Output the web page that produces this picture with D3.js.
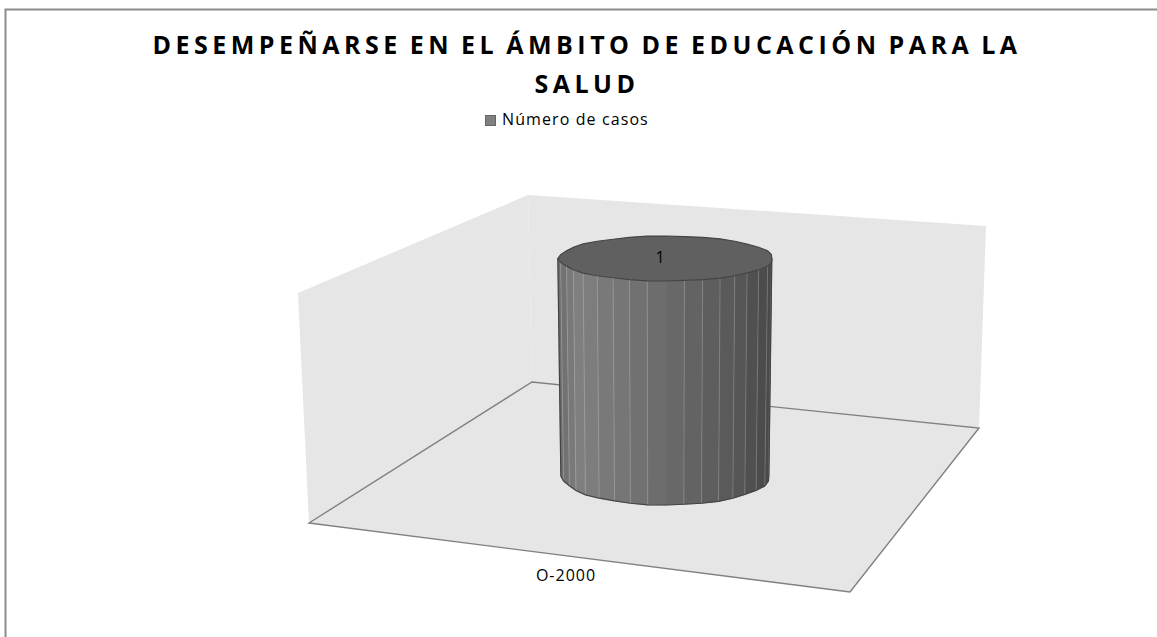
<!DOCTYPE html>
<html>
<head>
<meta charset="utf-8">
<script src="https://cdn.jsdelivr.net/npm/d3@7"></script>
<style>
    html, body { margin: 0; padding: 0; background: #fff; }
    svg { display: block; }
    text { font-family: "Open Sans", sans-serif; fill: #000; }
</style>
</head>
<body>
<div id="chart"></div>
<script>
const width = 1157;
const height = 637;

const titleLines = ["DESEMPEÑARSE EN EL ÁMBITO DE EDUCACIÓN PARA LA", "SALUD"];
const categories = ["O-2000"];
const seriesName = "Número de casos";
const seriesValues = [1];

const svg = d3.select("#chart")
    .append("svg")
    .attr("width", width)
    .attr("height", height);

// frame, only top and left edges fall inside the picture
svg.append("path")
    .attr("d", "M5.5,637V9.5H1157")
    .attr("fill", "none")
    .attr("stroke", "#8c8c8c")
    .attr("stroke-width", 2);

// title
svg.selectAll(".title")
    .data(titleLines)
    .enter().append("text")
    .attr("class", "title")
    .attr("x", 587)
    .attr("y", (d, i) => 54 + i * 39)
    .attr("text-anchor", "middle")
    .attr("font-size", "25px")
    .attr("font-weight", "bold")
    .attr("letter-spacing", "4.5px")
    .attr("word-spacing", "-3px")
    .text(d => d);

// legend
svg.append("rect")
    .attr("x", 485.5)
    .attr("y", 115.5)
    .attr("width", 10)
    .attr("height", 10)
    .attr("fill", "#808080")
    .attr("stroke", "#666");

svg.append("text")
    .attr("x", 502)
    .attr("y", 125)
    .attr("font-size", "16px")
    .attr("letter-spacing", "1.1px")
    .text(seriesName);

// walls and floor
const line = d3.line();
const leftWall = [[298, 293], [528, 195], [532, 382], [309, 523]];
const backWall = [[528, 195], [986, 226], [979, 428], [532, 382]];
const floor = [[309, 523], [532, 382], [979, 428], [850, 592]];

svg.selectAll(".wall")
    .data([leftWall, backWall, floor])
    .enter().append("path")
    .attr("class", "wall")
    .attr("d", d => line(d) + "Z")
    .attr("fill", "#e6e6e6");

svg.append("path")
    .attr("d", line(floor) + "Z")
    .attr("fill", "none")
    .attr("stroke", "#808080")
    .attr("stroke-width", 1.4);

// scales
const x = d3.scaleBand()
    .domain(categories)
    .range([309, 1023]);

const y = d3.scaleLinear()
    .domain([0, 1])
    .range([476, 258.5]);

// the cylinder gets wider and flatter towards the top, as in the perspective of the plot
const rx = d3.scaleLinear().domain([0, 1]).range([104, 107]);
const ry = d3.scaleLinear().domain([0, 1]).range([29, 22.5]);
const shade = d3.scaleLinear()
    .domain([0, 0.08, 0.3, 0.55, 0.85, 1])
    .range(["#6e6e6e", "#808080", "#757575", "#686868", "#565656", "#484848"]);

const facetCount = 36;

function ringPoint(category, value, k) {
    const a = k / facetCount * 2 * Math.PI;
    const wobble = 1 + 0.011 * Math.cos(a * 9);
    return [
        x(category) + x.bandwidth() / 2 - rx(value) * wobble * Math.cos(a),
        y(value) + ry(value) * wobble * Math.sin(a)
    ];
}

function facetShade(k) {
    return shade((1 - Math.cos((k + 0.5) / facetCount * 2 * Math.PI)) / 2);
}

categories.forEach((category, c) => {
    const value = seriesValues[c];
    const g = svg.append("g");
    const front = d3.range(facetCount / 2);

    // side of the cylinder, front half only
    g.selectAll(".facet")
        .data(front)
        .enter().append("path")
        .attr("class", "facet")
        .attr("d", k => line([
            ringPoint(category, value, k),
            ringPoint(category, value, k + 1),
            ringPoint(category, 0, k + 1),
            ringPoint(category, 0, k)
        ]) + "Z")
        .attr("fill", facetShade)
        .attr("stroke", facetShade)
        .attr("stroke-width", 0.5);

    // light seams between facets
    g.selectAll(".seam")
        .data(front.slice(1))
        .enter().append("path")
        .attr("class", "seam")
        .attr("d", k => line([ringPoint(category, value, k), ringPoint(category, 0, k)]))
        .attr("stroke", "#fff")
        .attr("stroke-opacity", k => (k === facetCount / 4 ? 0.06 : 0.24))
        .attr("stroke-width", 0.8);

    // outline of side
    const outline = front.concat(facetCount / 2).map(k => ringPoint(category, 0, k));
    g.append("path")
        .attr("d", line([ringPoint(category, value, 0)].concat(outline, [ringPoint(category, value, facetCount / 2)])))
        .attr("fill", "none")
        .attr("stroke", "#444")
        .attr("stroke-width", 1.2);

    // top cap
    g.append("path")
        .attr("d", line(d3.range(facetCount).map(k => ringPoint(category, value, k))) + "Z")
        .attr("fill", "#606060")
        .attr("stroke", "#444")
        .attr("stroke-width", 1.2);

    // value label
    g.append("text")
        .attr("x", x(category) + x.bandwidth() / 2 - 6)
        .attr("y", y(value) + 4.5)
        .attr("text-anchor", "middle")
        .attr("font-size", "16px")
        .text(value);

    // category label
    svg.append("text")
        .attr("x", 566)
        .attr("y", 581)
        .attr("text-anchor", "middle")
        .attr("font-size", "16px")
        .attr("letter-spacing", "1px")
        .text(category);
});
</script>
</body>
</html>
